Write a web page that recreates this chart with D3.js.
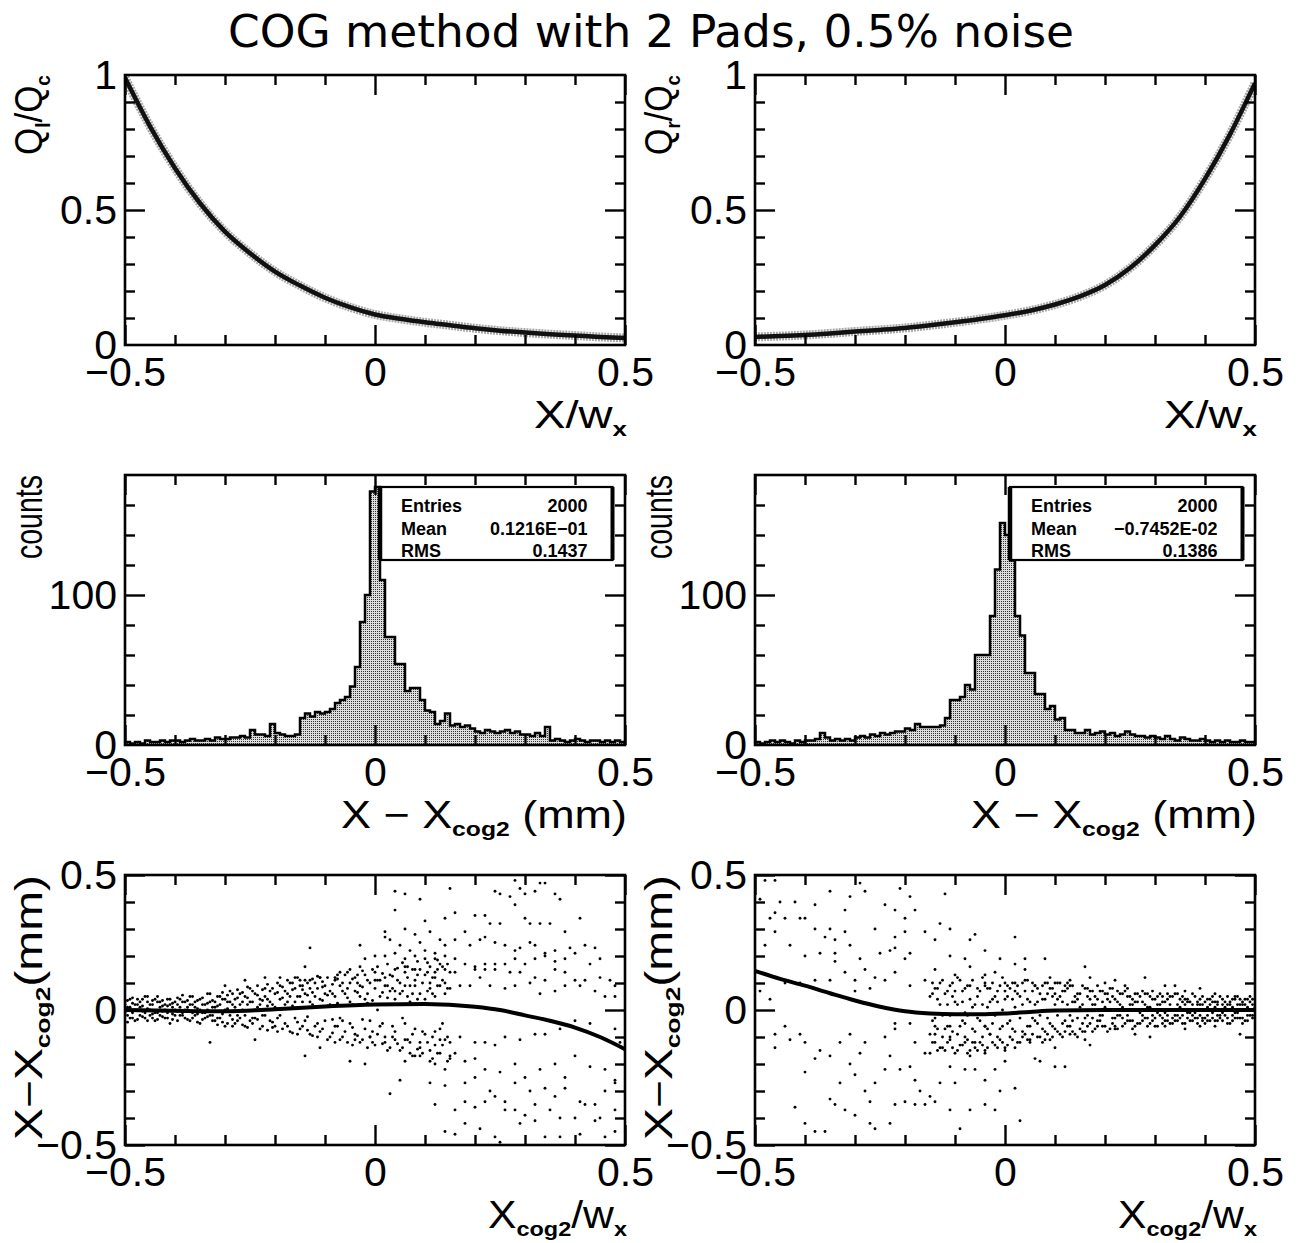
<!DOCTYPE html>
<html>
<head>
<meta charset="utf-8">
<script src="https://cdn.jsdelivr.net/npm/d3@7"></script>
<style>
  body { margin: 0; background: #fff; }
  svg text { font-family: "Liberation Sans", Arial, sans-serif; fill: #000; }
</style>
</head>
<body>
<div id="chart"></div>
<script>
// ---- data ----
const title = "COG method with 2 Pads, 0.5% noise";

// charge ratio bands (x = X/wx, y = Q/Qc)
const qlBand = [[-0.5,0.99],[-0.45,0.81],[-0.4,0.655],[-0.35,0.525],[-0.3,0.42],[-0.25,0.34],[-0.2,0.272],
  [-0.15,0.22],[-0.1,0.175],[-0.05,0.14],[0,0.113],[0.05,0.097],[0.1,0.084],[0.15,0.073],[0.2,0.062],
  [0.25,0.053],[0.3,0.046],[0.35,0.04],[0.4,0.035],[0.45,0.03],[0.5,0.026]];
const qrBand = [[-0.5,0.03],[-0.45,0.033],[-0.4,0.037],[-0.35,0.043],[-0.3,0.05],[-0.25,0.056],[-0.2,0.063],
  [-0.15,0.073],[-0.1,0.084],[-0.05,0.096],[0,0.11],[0.05,0.127],[0.1,0.15],[0.15,0.18],[0.2,0.222],
  [0.25,0.285],[0.3,0.37],[0.35,0.475],[0.4,0.615],[0.45,0.78],[0.5,0.97]];

// residual histograms: 100 bins of 0.01 mm from -0.5 to 0.5
const histStart = -0.5, histBin = 0.01;
const histLeft = [2,1,2,1,3,2,2,3,2,3, 3,2,3,4,3,3,4,3,5,4, 4,5,5,6,5,10,7,7,6,14,
  8,7,6,6,7,18,21,19,22,21, 22,24,28,30,32,39,52,82,100,169, 172,110,72,72,54,54,36,38,38,30,
  23,22,14,16,21,13,14,12,13,11, 9,8,10,9,8,9,10,8,9,7, 7,6,8,6,12,3,4,3,2,3, 4,3,2,3,3,2,3,2,3,2];
const histRight = [2,1,2,3,2,3,2,1,3,2, 3,3,4,8,5,3,4,3,4,3, 5,6,5,7,6,8,7,8,9,9,
  11,10,14,12,12,12,12,13,18,30, 30,32,40,37,60,60,60,86,117,148, 140,123,86,73,48,48,34,34,24,26,
  17,18,10,10,8,8,10,7,8,9, 7,8,6,7,9,7,6,6,5,6, 5,4,6,4,3,5,4,3,3,4, 3,2,3,2,3,2,2,3,2,2];
const statsLeft  = [["Entries","2000"],["Mean","0.1216E-01"],["RMS","0.1437"]];
const statsRight = [["Entries","2000"],["Mean","-0.7452E-02"],["RMS","0.1386"]];

// fitted correction curves (x = Xcog2/wx, y = X - Xcog2)
const fitLeft = [[-0.5,0.0],[-0.4,-0.003],[-0.3,-0.005],[-0.2,0.003],[-0.1,0.013],[0,0.02],[0.1,0.022],
  [0.2,0.012],[0.25,0.0],[0.3,-0.02],[0.35,-0.04],[0.4,-0.065],[0.45,-0.1],[0.5,-0.145]];
const fitRight = [[-0.5,0.145],[-0.45,0.115],[-0.4,0.09],[-0.35,0.062],[-0.3,0.035],[-0.25,0.012],[-0.2,-0.005],
  [-0.15,-0.013],[-0.1,-0.016],[-0.05,-0.016],[0,-0.013],[0.05,-0.007],[0.1,-0.002],[0.2,0],[0.3,0],[0.4,0],[0.5,0]];

// scattered points, bottom left
const scatLeft = [[0.04,0.44],[0.06,0.43],[0.09,0.41],[0.15,0.45],[0.14,0.34],[0.16,0.36],[0.13,0.26],[0.20,0.35],
  [0.22,0.35],[0.23,0.32],[0.25,0.32],[0.24,0.44],[0.25,0.43],[0.27,0.42],[0.28,0.39],[0.30,0.43],[0.32,0.44],
  [0.33,0.47],[0.28,0.48],[0.29,0.45],[0.34,0.47],[0.36,0.43],[0.37,0.41],[0.41,0.34],[0.30,0.34],[0.31,0.32],
  [0.33,0.32],[0.35,0.32],[0.38,0.29],[0.04,0.37],[0.02,0.29],[0.06,0.30],[0.08,0.28],[0.10,0.33],[0.11,0.29],
  [0.02,0.27],[0.03,0.26],[0.05,0.24],[0.07,0.22],[0.09,0.25],[0.10,0.22],[0.12,0.21],[0.14,0.24],[0.16,0.26],
  [0.18,0.29],[0.19,0.24],[0.21,0.26],[0.22,0.27],[0.24,0.25],[0.26,0.24],[0.28,0.22],[0.29,0.23],[0.31,0.25],
  [0.32,0.24],[0.34,0.21],[0.36,0.22],[0.39,0.23],[0.42,0.24],[0.44,0.23],[0.45,0.19],[0.43,0.17],[0.40,0.21],
  [0.38,0.19],[0.36,0.18],[0.34,0.20],[0.32,0.19],[0.30,0.17],[0.28,0.19],[0.26,0.17],[0.24,0.17],[0.22,0.17],
  [0.20,0.16],[0.18,0.17],[0.16,0.19],[0.14,0.20],[0.12,0.19],[0.10,0.19],[0.08,0.20],[0.06,0.19],[0.04,0.21],
  [0.02,0.20],[0.0,0.20],[-0.02,0.19],[-0.03,0.24],[-0.13,0.23],[-0.14,0.16],[-0.03,0.16],[-0.05,0.15],
  [-0.07,0.14],[-0.08,0.12],[-0.11,0.12],[-0.13,0.11],[-0.15,0.11],[-0.16,0.12],[-0.19,0.12],[-0.22,0.12],
  [-0.26,0.11],[-0.30,0.09],[0.06,0.16],[0.09,0.15],[0.12,0.14],[0.14,0.15],[0.16,0.14],[0.20,0.15],[0.22,0.15],
  [0.24,0.15],[0.27,0.14],[0.29,0.14],[0.32,0.12],[0.34,0.11],[0.36,0.15],[0.38,0.14],[0.40,0.11],[0.42,0.11],
  [0.45,0.12],[0.47,0.11],[0.48,0.05],[0.48,0.09],[0.46,0.05],[0.44,0.07],[0.41,0.09],[0.38,0.09],[0.36,0.07],
  [0.33,0.06],[0.31,0.10],[0.28,0.09],[0.26,0.08],[0.23,0.09],[0.21,0.12],[0.19,0.09],[0.17,0.09],[0.15,0.08],
  [0.13,0.09],[0.11,0.10],[0.08,0.09],[0.06,0.09],[0.04,0.07],[0.02,0.09],[0.0,0.11],
  [0.02,-0.12],[0.04,-0.11],[0.07,-0.12],[0.09,-0.14],[0.12,-0.08],[0.13,-0.11],[0.15,-0.12],[0.17,-0.10],
  [0.20,-0.12],[0.22,-0.12],[0.24,-0.13],[0.26,-0.10],[0.29,-0.11],[0.32,-0.09],[0.34,-0.09],[0.37,-0.07],
  [0.40,-0.04],[0.43,-0.05],[0.46,-0.11],[0.48,-0.07],[0.49,-0.12],[0.06,-0.19],[0.08,-0.17],[0.11,-0.19],
  [0.12,-0.20],[0.15,-0.17],[0.16,-0.16],[0.18,-0.19],[0.20,-0.18],[0.22,-0.22],[0.25,-0.23],[0.28,-0.20],
  [0.30,-0.25],[0.33,-0.22],[0.36,-0.20],[0.38,-0.25],[0.40,-0.17],[0.43,-0.21],[0.46,-0.22],[0.48,-0.26],
  [0.05,-0.26],[0.11,-0.27],[0.14,-0.22],[0.18,-0.27],[0.20,-0.25],[0.23,-0.30],[0.26,-0.34],[0.28,-0.27],
  [0.31,-0.30],[0.34,-0.29],[0.36,-0.32],[0.38,-0.29],[0.41,-0.34],[0.44,-0.35],[0.46,-0.30],[0.48,-0.27],
  [0.03,-0.31],[0.12,-0.35],[0.14,-0.28],[0.16,-0.37],[0.18,-0.34],[0.20,-0.36],[0.22,-0.34],[0.24,-0.32],
  [0.26,-0.37],[0.28,-0.37],[0.30,-0.39],[0.32,-0.35],[0.35,-0.37],[0.37,-0.40],[0.40,-0.40],[0.42,-0.35],
  [0.45,-0.40],[0.48,-0.37],[0.14,-0.45],[0.16,-0.46],[0.18,-0.42],[0.21,-0.44],[0.24,-0.47],[0.25,-0.49],
  [0.29,-0.42],[0.32,-0.41],[0.34,-0.47],[0.37,-0.47],[0.41,-0.46],[0.44,-0.41],[0.46,-0.47],[0.48,-0.45],
  [-0.05,-0.19],[-0.02,-0.20],[-0.14,-0.17],[-0.11,-0.14],[-0.08,-0.12],[-0.04,-0.11],[-0.01,-0.10],
  [-0.24,-0.11],[-0.33,-0.12]];
// dense core, bottom left: [x, y values...]
const coreLeft = [[-0.50,0.02,-0.01,0.03],[-0.49,-0.03,0.01,0.04],[-0.48,0.00,-0.04,0.02],[-0.47,0.03,-0.02,0.01],
  [-0.46,-0.01,0.05,-0.03],[-0.45,0.02,-0.02,0.00],[-0.44,0.04,-0.01,-0.04],[-0.43,0.01,0.03,-0.02],
  [-0.42,-0.03,0.00,0.02],[-0.41,0.02,-0.05,0.04],[-0.40,0.00,0.03,-0.02],[-0.39,-0.02,0.04,0.01],
  [-0.38,0.03,-0.03,0.00],[-0.37,-0.04,0.02,0.05],[-0.36,0.01,-0.02,0.03],[-0.35,0.04,-0.05,0.00],
  [-0.34,-0.01,0.02,-0.03],[-0.33,0.03,0.06,-0.02],[-0.32,-0.04,0.01,0.03],[-0.31,0.02,-0.03,0.05],
  [-0.30,-0.06,0.04,0.00],[-0.29,0.03,-0.02,0.07],[-0.28,-0.05,0.01,0.04],[-0.27,0.06,-0.03,0.02],
  [-0.26,-0.02,0.05,-0.06],[-0.25,0.03,-0.04,0.08],[-0.24,0.00,0.06,-0.03],[-0.23,-0.07,0.04,0.02],
  [-0.22,0.05,-0.02,0.08],[-0.21,-0.04,0.03,0.07],[-0.20,0.06,-0.06,0.01],[-0.19,-0.02,0.09,0.04],
  [-0.18,0.07,-0.05,0.02],[-0.17,-0.08,0.05,0.10],[-0.16,0.03,-0.03,0.08],[-0.15,0.09,-0.07,0.05],
  [-0.14,-0.04,0.06,0.11],[-0.13,0.08,-0.09,0.03],[-0.12,-0.06,0.10,0.05],[-0.11,0.04,-0.08,0.12],
  [-0.10,0.09,-0.04,0.06],[-0.09,-0.10,0.07,0.02],[-0.08,0.11,-0.06,0.05],[-0.07,-0.03,0.09,-0.11],
  [-0.06,0.06,-0.08,0.13],[-0.05,0.10,-0.05,0.03],[-0.04,-0.09,0.12,0.07],[-0.03,0.05,-0.12,0.09],
  [-0.02,0.13,-0.07,0.04],[-0.01,-0.04,0.10,-0.10],[0.00,0.08,-0.13,0.14],[0.01,-0.06,0.11,0.05],
  [0.02,0.12,-0.10,0.02],[0.03,-0.14,0.07,0.13],[0.04,0.04,-0.08,0.15],[0.05,0.10,-0.15,0.06],
  [0.06,-0.05,0.14,-0.11],[0.07,0.09,-0.16,0.03],[0.08,0.15,-0.07,0.11],[0.09,-0.12,0.06,-0.17],
  [0.10,0.13,-0.09,0.04],[0.11,-0.15,0.16,0.08],[0.12,0.05,-0.13,0.12],[0.13,-0.07,0.17,-0.16],
  [0.14,0.10,-0.11,0.06],[0.15,-0.18,0.14,0.02],
  [-0.495,0.01,-0.02,0.035,-0.045],[-0.485,-0.01,0.025,-0.03,0.045],[-0.475,0.02,-0.035,0.0,0.04],
  [-0.465,-0.025,0.015,0.04,-0.005],[-0.455,0.005,-0.04,0.03,0.05],[-0.445,-0.015,0.02,-0.03,0.035],
  [-0.435,0.03,-0.01,0.05,-0.035],[-0.425,-0.005,0.035,-0.025,0.015],[-0.415,0.015,-0.03,0.04,-0.01],
  [-0.405,-0.035,0.01,0.025,-0.015],[-0.395,0.02,-0.005,0.045,-0.04],[-0.385,-0.02,0.03,-0.01,0.055],
  [-0.375,0.01,-0.035,0.035,0.0],[-0.365,-0.03,0.02,0.05,-0.01],[-0.355,0.035,-0.015,0.005,-0.045],
  [-0.345,-0.01,0.045,-0.035,0.02],[-0.335,0.025,-0.025,0.06,0.0],[-0.325,-0.04,0.01,0.035,-0.02],
  [-0.315,0.05,-0.03,0.015,-0.055],[-0.305,-0.015,0.04,-0.045,0.065],[-0.295,0.03,-0.05,0.055,0.005],
  [-0.285,-0.035,0.06,0.02,-0.06],[-0.275,0.045,-0.02,0.075,-0.04],[-0.265,-0.055,0.03,0.065,0.0],
  [-0.255,0.02,-0.065,0.045,0.085],[-0.245,-0.03,0.07,-0.05,0.03],[-0.235,0.055,-0.035,0.09,0.01],
  [-0.225,-0.06,0.035,0.075,-0.02],[-0.215,0.04,-0.075,0.095,0.015],[-0.205,-0.045,0.08,0.02,-0.065],
  [-0.195,0.065,-0.03,0.1,-0.08],[-0.185,-0.07,0.045,0.085,0.005],[-0.175,0.03,-0.06,0.11,0.06],
  [-0.165,-0.085,0.075,0.015,0.1],[-0.155,0.05,-0.045,0.12,-0.09],[-0.145,-0.06,0.09,0.03,0.075],
  [-0.135,0.1,-0.075,0.055,-0.025],[-0.125,-0.095,0.065,0.115,0.02],[-0.115,0.08,-0.05,0.125,-0.1],
  [-0.105,-0.07,0.105,0.035,0.085],[-0.095,0.055,-0.11,0.12,0.015],[-0.085,-0.035,0.095,-0.085,0.06],
  [-0.075,0.115,-0.06,0.025,0.13],[-0.065,-0.1,0.07,0.1,-0.04],[-0.055,0.045,-0.12,0.14,0.08],
  [-0.045,-0.065,0.115,0.02,-0.13],[-0.035,0.13,-0.095,0.065,0.1],[-0.025,-0.11,0.085,0.145,-0.035],
  [-0.015,0.06,-0.14,0.11,0.025],[-0.005,-0.08,0.15,0.035,-0.12],[0.005,0.11,-0.09,0.16,0.0],
  [0.015,-0.125,0.065,0.135,-0.05],[0.025,0.09,-0.15,0.045,0.17],[0.035,-0.06,0.125,-0.1,0.08],
  [0.045,0.155,-0.125,0.02,0.11],[0.055,-0.14,0.07,0.175,-0.03],[0.065,0.12,-0.11,0.05,0.16],
  [0.075,-0.09,0.15,-0.17,0.06],[0.085,0.04,-0.145,0.13,0.18],[0.095,-0.16,0.1,0.02,-0.08],
  [0.105,0.175,-0.12,0.07,0.14],[0.115,-0.1,0.06,-0.18,0.12],[0.125,0.15,-0.16,0.09,0.185],
  [0.135,-0.13,0.11,-0.05,0.16],[0.145,0.08,-0.19,0.17,-0.1]];

// scattered points, bottom right
const scatRight = [[-0.48,0.48],[-0.46,0.48],[-0.45,0.40],[-0.42,0.40],[-0.49,0.41],[-0.46,0.36],[-0.47,0.34],
  [-0.44,0.34],[-0.41,0.34],[-0.40,0.34],[-0.38,0.39],[-0.35,0.44],[-0.32,0.37],[-0.29,0.47],[-0.28,0.44],
  [-0.31,0.42],[-0.24,0.39],[-0.22,0.37],[-0.20,0.34],[-0.18,0.37],[-0.19,0.42],[-0.21,0.45],[-0.12,0.43],
  [-0.13,0.32],[-0.11,0.30],[-0.16,0.29],[-0.22,0.27],[-0.20,0.29],[-0.26,0.30],[-0.32,0.29],[-0.35,0.30],
  [-0.34,0.26],[-0.36,0.27],[-0.38,0.30],[-0.43,0.24],[-0.46,0.29],[-0.48,0.24],[-0.40,0.20],[-0.37,0.21],
  [-0.34,0.21],[-0.31,0.24],[-0.29,0.19],[-0.28,0.15],[-0.32,0.14],[-0.30,0.11],[-0.34,0.18],[-0.25,0.21],
  [-0.23,0.22],[-0.22,0.23],[-0.20,0.19],[-0.19,0.21],[-0.14,0.26],[-0.11,0.20],[-0.08,0.19],[-0.07,0.26],
  [-0.06,0.28],[-0.04,0.22],[-0.01,0.19],[0.02,0.27],[0.04,0.19],[0.08,0.19],[0.04,0.15],[0.02,0.17],
  [-0.02,0.14],[-0.04,0.13],[-0.07,0.16],[-0.10,0.13],[-0.14,0.15],[-0.16,0.11],[-0.19,0.09],[-0.22,0.14],
  [-0.24,0.11],[-0.26,0.12],[-0.27,0.08],[-0.30,0.07],[-0.35,0.11],[-0.38,0.11],[-0.41,0.10],[-0.44,0.10],
  [-0.47,0.04],[-0.49,0.07],[0.16,0.16],[0.13,0.11],[0.12,0.09],[0.17,0.12],[0.20,0.10],[0.22,0.11],
  [0.24,0.09],[0.28,0.12],[0.32,0.09],[0.34,0.09],[0.36,0.07],[0.39,0.08],[0.42,0.06],[0.46,0.05],[0.48,0.04],
  [-0.04,0.09],[0.0,0.10],[0.02,0.07],[0.06,0.09],[0.09,0.12],[0.10,0.10],
  [-0.46,-0.09],[-0.43,-0.11],[-0.41,-0.09],[-0.46,-0.14],[-0.40,-0.23],[-0.38,-0.18],[-0.37,-0.15],
  [-0.35,-0.17],[-0.33,-0.12],[-0.31,-0.09],[-0.29,-0.16],[-0.28,-0.12],[-0.24,-0.10],[-0.22,-0.07],
  [-0.18,-0.12],[-0.16,-0.16],[-0.14,-0.09],[-0.11,-0.10],[-0.08,-0.12],[-0.06,-0.12],[-0.03,-0.09],
  [0.0,-0.15],[0.02,-0.14],[0.05,-0.11],[0.08,-0.11],[0.10,-0.14],[0.13,-0.09],[0.16,-0.11],[0.17,-0.13],
  [0.22,-0.07],[0.26,-0.09],[0.29,-0.10],[0.32,-0.06],[0.36,-0.07],[0.39,-0.06],[0.42,-0.06],[0.47,-0.09],
  [-0.42,-0.36],[-0.40,-0.42],[-0.38,-0.45],[-0.36,-0.45],[-0.35,-0.33],[-0.33,-0.27],[-0.31,-0.20],
  [-0.30,-0.24],[-0.28,-0.30],[-0.27,-0.34],[-0.26,-0.27],[-0.24,-0.22],[-0.23,-0.17],[-0.21,-0.22],
  [-0.19,-0.21],[-0.18,-0.26],[-0.17,-0.30],[-0.15,-0.32],[-0.13,-0.27],[-0.11,-0.21],[-0.10,-0.27],
  [-0.08,-0.22],[-0.06,-0.22],[-0.04,-0.26],[-0.02,-0.22],[-0.01,-0.30],[0.02,-0.29],[0.06,-0.18],
  [0.07,-0.19],[0.10,-0.21],[0.12,-0.21],[0.0,-0.19],[-0.34,-0.35],[-0.32,-0.37],[-0.30,-0.39],[-0.27,-0.42],
  [-0.26,-0.44],[-0.23,-0.42],[-0.22,-0.35],[-0.20,-0.34],[-0.18,-0.35],[-0.16,-0.35],[-0.14,-0.34],
  [-0.11,-0.37],[-0.09,-0.44],[-0.07,-0.37],[-0.04,-0.35],[-0.02,-0.37],[0.03,-0.41],[-0.07,-0.17],
  [-0.04,-0.16],[-0.40,-0.12],[-0.44,-0.06],[-0.22,-0.05],[-0.19,-0.05],[-0.14,-0.06],[-0.11,-0.06],
  [-0.08,-0.05],[-0.04,-0.06]];
// dense core, bottom right: [x, y values...]
const coreRight = [[-0.15,-0.09,0.05,-0.16],[-0.14,0.08,-0.12,-0.03],[-0.13,-0.14,0.02,0.10],[-0.12,0.06,-0.07,-0.15],
  [-0.11,-0.11,0.09,-0.02],[-0.10,0.03,-0.16,0.07],[-0.09,-0.06,0.11,-0.13],[-0.08,0.08,-0.10,-0.01],
  [-0.07,-0.15,0.04,0.09],[-0.06,0.02,-0.08,-0.14],[-0.05,-0.12,0.07,-0.04],[-0.04,0.10,-0.06,-0.15],
  [-0.03,-0.09,0.03,0.08],[-0.02,0.05,-0.13,-0.02],[-0.01,-0.07,0.09,-0.11],[0.00,0.04,-0.14,0.07],
  [0.01,-0.04,0.08,-0.10],[0.02,0.10,-0.08,0.01],[0.03,-0.12,0.05,-0.03],[0.04,0.07,-0.09,0.11],
  [0.05,-0.06,0.03,-0.12],[0.06,0.09,-0.04,0.02],[0.07,-0.10,0.06,-0.02],[0.08,0.04,-0.08,0.10],
  [0.09,-0.05,0.08,-0.11],[0.10,0.02,-0.07,0.06],[0.11,-0.09,0.05,0.10],[0.12,0.07,-0.04,-0.08],
  [0.13,-0.02,0.09,-0.06],[0.14,0.05,-0.09,0.03],[0.15,-0.07,0.06,0.01],[0.16,0.08,-0.03,-0.08],
  [0.17,-0.05,0.04,0.07],[0.18,0.02,-0.07,0.05],[0.19,-0.04,0.07,-0.02],[0.20,0.06,-0.06,0.01],
  [0.21,-0.07,0.03,0.08],[0.22,0.04,-0.03,-0.06],[0.23,-0.02,0.06,0.02],[0.24,0.07,-0.05,0.00],
  [0.25,-0.04,0.02,0.05],[0.26,0.03,-0.06,0.06],[0.27,-0.05,0.05,-0.01],[0.28,0.02,-0.03,0.06],
  [0.29,0.05,-0.05,0.01],[0.30,-0.03,0.04,-0.06],[0.31,0.06,-0.02,0.02],[0.32,-0.04,0.03,-0.01],
  [0.33,0.02,-0.05,0.05],[0.34,-0.02,0.06,-0.04],[0.35,0.04,-0.03,0.01],[0.36,-0.05,0.02,0.04],
  [0.37,0.03,-0.04,-0.01],[0.38,-0.01,0.05,-0.03],[0.39,0.04,-0.02,0.02],[0.40,-0.03,0.03,-0.05],
  [0.41,0.02,-0.04,0.04],[0.42,-0.04,0.01,0.03],[0.43,0.05,-0.02,-0.03],[0.44,-0.02,0.03,0.01],
  [0.45,0.03,-0.05,0.02],[0.46,-0.01,0.04,-0.03],[0.47,0.02,-0.03,0.04],[0.48,-0.04,0.02,0.00],
  [0.49,0.03,-0.02,0.05],[0.50,-0.02,0.01,-0.03],
  [-0.145,-0.12,0.06,-0.04,0.1],[-0.135,0.04,-0.15,-0.07,0.08],[-0.125,-0.1,0.11,-0.02,-0.14],
  [-0.115,0.07,-0.12,0.02,-0.06],[-0.105,-0.14,0.05,0.1,-0.08],[-0.095,0.02,-0.09,0.12,-0.15],
  [-0.085,-0.13,0.07,-0.04,0.03],[-0.075,0.09,-0.11,-0.02,-0.16],[-0.065,-0.07,0.11,0.01,-0.12],
  [-0.055,0.05,-0.15,0.08,-0.03],[-0.045,-0.1,0.02,-0.13,0.12],[-0.035,0.08,-0.07,-0.14,0.01],
  [-0.025,-0.12,0.1,-0.05,0.04],[-0.015,0.03,-0.1,0.07,-0.14],[-0.005,-0.06,0.12,-0.12,0.0],
  [0.005,0.09,-0.05,-0.13,0.05],[0.015,-0.11,0.04,0.1,-0.07],[0.025,0.06,-0.12,-0.01,0.09],
  [0.035,-0.08,0.1,-0.1,0.02],[0.045,0.11,-0.06,0.04,-0.11],[0.055,-0.09,0.07,-0.03,0.1],
  [0.065,0.03,-0.1,0.08,-0.05],[0.075,-0.07,0.09,-0.12,0.04],[0.085,0.1,-0.03,0.06,-0.09],
  [0.095,-0.06,0.05,-0.1,0.08],[0.105,0.04,-0.08,0.1,-0.02],[0.115,-0.1,0.03,0.07,-0.05],
  [0.125,0.08,-0.06,0.02,0.1],[0.135,-0.04,0.09,-0.08,0.03],[0.145,0.06,-0.1,0.04,-0.03],
  [0.155,-0.08,0.02,0.09,-0.05],[0.165,0.05,-0.06,-0.02,0.08],[0.175,-0.03,0.07,-0.08,0.02],
  [0.185,0.09,-0.04,0.04,-0.06],[0.195,-0.06,0.03,0.07,-0.02],[0.205,0.04,-0.08,0.0,0.06],
  [0.215,-0.05,0.05,-0.03,0.08],[0.225,0.07,-0.02,0.03,-0.07],[0.235,-0.03,0.06,-0.06,0.01],
  [0.245,0.05,-0.04,0.08,-0.02],[0.255,-0.07,0.02,0.04,-0.04],[0.265,0.03,-0.05,0.06,0.0],
  [0.275,-0.02,0.07,-0.04,0.03],[0.285,0.06,-0.03,0.01,-0.06],[0.295,-0.04,0.04,-0.02,0.07],
  [0.305,0.02,-0.06,0.05,-0.01],[0.315,-0.05,0.03,-0.03,0.05],[0.325,0.04,-0.02,0.06,-0.04],
  [0.335,-0.03,0.05,0.0,-0.05],[0.345,0.06,-0.04,0.02,-0.02],[0.355,-0.02,0.03,-0.05,0.05],
  [0.365,0.03,-0.03,0.04,-0.01],[0.375,-0.04,0.06,-0.02,0.02],[0.385,0.02,-0.05,0.03,-0.03],
  [0.395,-0.03,0.02,0.05,-0.04],[0.405,0.04,-0.02,-0.04,0.01],[0.415,-0.01,0.05,-0.03,0.03],
  [0.425,0.03,-0.04,0.02,-0.02],[0.435,-0.04,0.02,0.04,-0.01],[0.445,0.02,-0.03,-0.05,0.05],
  [0.455,-0.02,0.04,0.01,-0.04],[0.465,0.05,-0.01,-0.03,0.02],[0.475,-0.03,0.03,0.02,-0.05],
  [0.485,0.01,-0.04,0.04,-0.02],[0.495,-0.02,0.02,-0.03,0.04]];

// ---- drawing ----
const PW = 500, PH = 270;
const svg = d3.select("#chart").append("svg").attr("width", 1300).attr("height", 1243);

const defs = svg.append("defs");
const pat = defs.append("pattern").attr("id", "hatch")
  .attr("width", 2).attr("height", 2).attr("patternUnits", "userSpaceOnUse");
pat.append("rect").attr("width", 2).attr("height", 2).attr("fill", "#dedede");
pat.append("rect").attr("width", 1).attr("height", 1).attr("fill", "#333");

svg.append("text").attr("x", 651).attr("y", 47).attr("text-anchor", "middle")
  .attr("textLength", 846).attr("lengthAdjust", "spacingAndGlyphs")
  .style("font-family", "'DejaVu Sans', sans-serif").style("font-size", "44px")
  .text(title);

function makePanel(px, py, xDom, yDom, id) {
  const g = svg.append("g").attr("transform", `translate(${px},${py})`);
  const x = d3.scaleLinear().domain(xDom).range([0, PW]);
  const y = d3.scaleLinear().domain(yDom).range([PH, 0]);
  defs.append("clipPath").attr("id", id).append("rect").attr("width", PW).attr("height", PH);
  return { g, x, y, clip: `url(#${id})` };
}

function tickSet(g, axisFn, scale, vals, len, tr) {
  g.append("g").attr("transform", tr)
    .call(axisFn(scale).tickValues(vals).tickSize(-len).tickFormat(""))
    .call(s => s.select(".domain").remove())
    .selectAll("line").attr("stroke", "#000").attr("stroke-width", 2.4);
}

function frame(p, xMinor, xMajor, yMinor, yMajor, yLabels) {
  const { g, x, y } = p;
  [[d3.axisBottom, `translate(0,${PH})`], [d3.axisTop, "translate(0,0)"]].forEach(([fn, tr]) => {
    tickSet(g, fn, x, xMinor, 10, tr);
    tickSet(g, fn, x, xMajor, 20, tr);
  });
  [[d3.axisLeft, "translate(0,0)"], [d3.axisRight, `translate(${PW},0)`]].forEach(([fn, tr]) => {
    tickSet(g, fn, y, yMinor, 10, tr);
    tickSet(g, fn, y, yMajor, 20, tr);
  });
  g.append("rect").attr("width", PW).attr("height", PH)
    .attr("fill", "none").attr("stroke", "#000").attr("stroke-width", 2.6);

  const fmt = d3.format("");
  const xl = g.append("g").attr("transform", `translate(0,${PH})`)
    .call(d3.axisBottom(x).tickValues([-0.5, 0, 0.5]).tickSize(0).tickPadding(12).tickFormat(fmt));
  const yl = g.append("g")
    .call(d3.axisLeft(y).tickValues(yLabels).tickSize(0).tickPadding(8).tickFormat(fmt));
  [xl, yl].forEach(a => {
    a.select(".domain").remove();
    a.selectAll("text").style("font-size", "41px").attr("font-family", null);
  });
}

function richText(sel, parts, size) {
  let shifted = false;
  parts.forEach(pt => {
    const t = sel.append("tspan").text(pt.t);
    if (pt.sub) {
      t.style("font-size", (size * 0.55) + "px").style("font-weight", "bold").attr("dy", size * 0.22);
      shifted = true;
    } else if (shifted) {
      t.attr("dy", -size * 0.22);
      shifted = false;
    }
  });
}

function xTitle(p, parts, yOff, len) {
  const t = p.g.append("text").attr("x", PW + 2).attr("y", PH + yOff)
    .attr("text-anchor", "end").style("font-size", "38px")
    .attr("textLength", len).attr("lengthAdjust", "spacingAndGlyphs");
  richText(t, parts, 38);
}
function yTitle(p, parts, xOff, len) {
  const t = p.g.append("text").attr("transform", `translate(${xOff},0) rotate(-90)`)
    .attr("text-anchor", "end").style("font-size", "38px")
    .attr("textLength", len).attr("lengthAdjust", "spacingAndGlyphs");
  richText(t, parts, 38);
}

const xMinor = d3.range(-4, 5).filter(v => v !== 0).map(v => v / 10);
const xMajor = [-0.5, 0, 0.5];

// ---- top row: charge ratios ----
function bandPanel(px, py, band, sub, id) {
  const p = makePanel(px, py, [-0.5, 0.5], [0, 1], id);
  const line = d3.line().x(d => p.x(d[0])).y(d => p.y(d[1])).curve(d3.curveMonotoneX);
  const gb = p.g.append("g").attr("clip-path", p.clip);
  gb.append("path").datum(band).attr("d", line).attr("fill", "none")
    .attr("stroke", "#555").attr("stroke-width", 9).attr("stroke-opacity", 0.5)
    .attr("stroke-dasharray", "2 1");
  gb.append("path").datum(band).attr("d", line).attr("fill", "none")
    .attr("stroke", "#111").attr("stroke-width", 4.5);
  frame(p, xMinor, xMajor, d3.range(1, 10).filter(v => v !== 5).map(v => v / 10), [0.5], [0, 0.5, 1]);
  xTitle(p, [{ t: "X/w" }, { t: "x", sub: true }], 83, 93);
  yTitle(p, [{ t: "Q" }, { t: sub, sub: true }, { t: "/Q" }, { t: "c", sub: true }], -83, 80);
}
bandPanel(125, 75, qlBand, "l", "c1");
bandPanel(755, 75, qrBand, "r", "c2");

// ---- middle row: histograms ----
function histPanel(px, py, counts, stats, id) {
  const p = makePanel(px, py, [-0.5, 0.5], [0, 180], id);
  const pts = counts.map((c, i) => [histStart + i * histBin, c]);
  pts.push([histStart + counts.length * histBin, counts[counts.length - 1]]);
  const area = d3.area().x(d => p.x(d[0])).y0(p.y(0)).y1(d => p.y(d[1])).curve(d3.curveStepAfter);
  const line = d3.line().x(d => p.x(d[0])).y(d => p.y(d[1])).curve(d3.curveStepAfter);
  const gh = p.g.append("g").attr("clip-path", p.clip);
  gh.append("path").datum(pts).attr("d", area).attr("fill", "url(#hatch)");
  gh.append("path").datum(pts).attr("d", line).attr("fill", "none")
    .attr("stroke", "#000").attr("stroke-width", 2.5);

  // statistics box
  const bx = PW * 0.51, bw = PW * 0.465, by = 12, bh = 73;
  const sb = p.g.append("g");
  sb.append("rect").attr("x", bx).attr("y", by).attr("width", bw).attr("height", bh)
    .attr("fill", "#fff").attr("stroke", "#000").attr("stroke-width", 2.2);
  sb.append("line").attr("x1", bx).attr("x2", bx).attr("y1", by).attr("y2", by + bh)
    .attr("stroke", "#000").attr("stroke-width", 4.5);
  sb.append("line").attr("x1", bx + bw).attr("x2", bx + bw).attr("y1", by).attr("y2", by + bh)
    .attr("stroke", "#000").attr("stroke-width", 4);
  stats.forEach((s, i) => {
    const yy = by + 25 + i * 22.5;
    sb.append("text").attr("x", bx + 21).attr("y", yy).style("font-size", "18px")
      .style("font-weight", "bold").text(s[0]);
    sb.append("text").attr("x", bx + bw - 25).attr("y", yy).attr("text-anchor", "end")
      .style("font-size", "18px").style("font-weight", "bold").text(s[1].replace("-", "\u2212"));
  });

  frame(p, xMinor, xMajor, [20, 40, 60, 80, 120, 140, 160], [100], [0, 100]);
  xTitle(p, [{ t: "X \u2212 X" }, { t: "cog2", sub: true }, { t: " (mm)" }], 83, 286);
  yTitle(p, [{ t: "counts" }], -83, 84);
}
histPanel(125, 475, histLeft, statsLeft, "c3");
histPanel(755, 475, histRight, statsRight, "c4");

// ---- bottom row: residual vs reconstructed position ----
function residPanel(px, py, scat, core, fit, id) {
  const p = makePanel(px, py, [-0.5, 0.5], [-0.5, 0.5], id);
  const pts = scat.concat(core.flatMap(r => r.slice(1).map(v => [r[0], v])));
  const gs = p.g.append("g").attr("clip-path", p.clip);
  gs.selectAll("circle").data(pts).join("circle")
    .attr("cx", d => p.x(d[0])).attr("cy", d => p.y(d[1])).attr("r", 1.45).attr("fill", "#000");
  const line = d3.line().x(d => p.x(d[0])).y(d => p.y(d[1])).curve(d3.curveMonotoneX);
  gs.append("path").datum(fit).attr("d", line).attr("fill", "none")
    .attr("stroke", "#000").attr("stroke-width", 4);
  frame(p, xMinor, xMajor, xMinor, xMajor, [-0.5, 0, 0.5]);
  xTitle(p, [{ t: "X" }, { t: "cog2", sub: true }, { t: "/w" }, { t: "x", sub: true }], 83, 139);
  yTitle(p, [{ t: "X\u2212X" }, { t: "cog2", sub: true }, { t: "(mm)" }], -83, 265);
}
residPanel(125, 875, scatLeft, coreLeft, fitLeft, "c5");
residPanel(755, 875, scatRight, coreRight, fitRight, "c6");
</script>
</body>
</html>
